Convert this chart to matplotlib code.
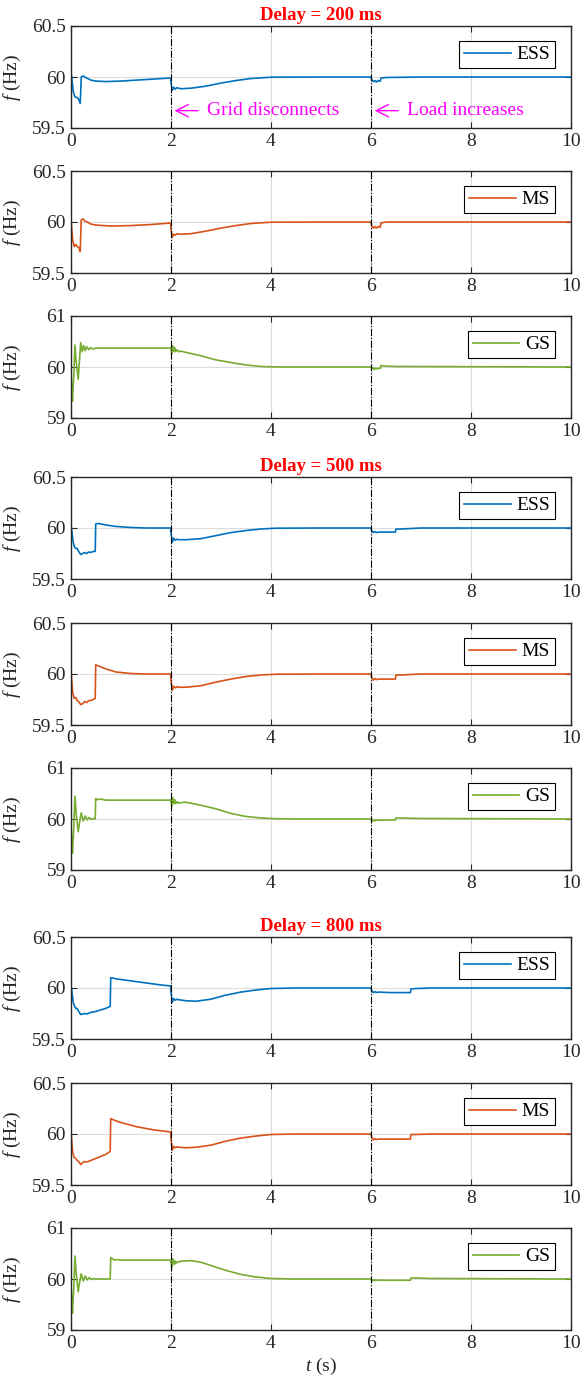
import matplotlib
matplotlib.use("Agg")
import matplotlib.pyplot as plt
from matplotlib.ticker import FormatStrFormatter

plt.rcParams['font.family'] = ['Liberation Serif', 'DejaVu Serif']
plt.rcParams['mathtext.fontset'] = 'custom'
plt.rcParams['mathtext.rm'] = 'Liberation Serif'
plt.rcParams['mathtext.it'] = 'Liberation Serif:italic'

# ---- data: (t in s, f in Hz) ----
delays = ['200', '500', '800']
series_names = ['ESS', 'MS', 'GS']
colors = ['#0072BD', '#D95319', '#77AC30']

t_ess_200 = [0, 0.02, 0.05, 0.08, 0.1, 0.13, 0.16, 0.19, 0.2, 0.21, 0.25, 0.28, 0.32, 0.4, 0.5, 0.7, 1.0, 1.5, 2.0,
             2.0, 2.03, 2.06, 2.09, 2.12, 2.2, 2.4, 2.7, 3.0, 3.3, 3.6, 4.0, 5.0, 6.0,
             6.02, 6.05, 6.08, 6.11, 6.14, 6.17, 6.19, 6.2, 6.3, 7, 10]
f_ess_200 = [60.05, 60.0, 59.86, 59.81, 59.80, 59.80, 59.78, 59.74, 59.85, 60.0, 60.01, 60.0, 59.99, 59.97, 59.96, 59.955, 59.96, 59.975, 59.99,
             59.96, 59.87, 59.9, 59.88, 59.895, 59.885, 59.89, 59.91, 59.94, 59.965, 59.985, 59.998, 60.0, 60.0,
             59.97, 59.955, 59.965, 59.95, 59.965, 59.96, 59.96, 59.99, 59.995, 60.0, 60.0]

t_ms_200 = [0, 0.01, 0.04, 0.07, 0.1, 0.13, 0.16, 0.19, 0.2, 0.21, 0.25, 0.28, 0.33, 0.4, 0.5, 0.8, 1.2, 1.6, 2.0,
            2.0, 2.03, 2.06, 2.09, 2.12, 2.2, 2.4, 2.7, 3.0, 3.3, 3.6, 4.0, 5.0, 6.0,
            6.02, 6.05, 6.08, 6.11, 6.14, 6.17, 6.19, 6.2, 6.3, 7, 10]
f_ms_200 = [60.11, 60.0, 59.82, 59.76, 59.78, 59.76, 59.75, 59.71, 59.86, 60.02, 60.03, 60.01, 60.0, 59.98, 59.97, 59.96, 59.965, 59.975, 59.99,
            59.95, 59.85, 59.88, 59.87, 59.885, 59.88, 59.885, 59.91, 59.94, 59.965, 59.985, 59.998, 60.0, 60.0,
            59.96, 59.94, 59.955, 59.94, 59.955, 59.95, 59.95, 59.99, 60.0, 60.0, 60.0]

t_gs_200 = [0, 0.02, 0.035, 0.06, 0.085, 0.11, 0.15, 0.18, 0.2, 0.23, 0.26, 0.29, 0.32, 0.36, 0.4, 0.45, 0.5, 0.6, 1.0, 2.0,
            2.02, 2.04, 2.06, 2.08, 2.1, 2.13, 2.16, 2.2, 2.6, 2.9, 3.25, 3.5, 3.8, 4.2, 5.0, 6.0,
            6.02, 6.04, 6.07, 6.1, 6.13, 6.16, 6.19, 6.2, 6.25, 6.5, 10]
f_gs_200 = [60.0, 59.6, 59.33, 59.8, 60.43, 60.1, 59.76, 60.2, 60.48, 60.3, 60.42, 60.32, 60.4, 60.34, 60.38, 60.35, 60.37, 60.37, 60.37, 60.37,
            60.25, 60.42, 60.3, 60.38, 60.3, 60.34, 60.3, 60.31, 60.22, 60.14, 60.08, 60.04, 60.01, 60.0, 60.0, 60.0,
            59.96, 59.99, 59.95, 59.98, 59.96, 59.98, 59.97, 60.03, 60.02, 60.01, 60.0]

t_ess_500 = [0, 0.02, 0.05, 0.08, 0.1, 0.13, 0.16, 0.2, 0.24, 0.28, 0.32, 0.36, 0.4, 0.45, 0.49, 0.5, 0.55, 0.7, 0.9, 1.2, 1.5, 2.0,
             2.0, 2.03, 2.06, 2.09, 2.12, 2.16, 2.3, 2.6, 2.9, 3.2, 3.5, 3.8, 4.1, 5.0, 6.0,
             6.02, 6.05, 6.08, 6.11, 6.15, 6.3, 6.49, 6.5, 6.6, 7, 10]
f_ess_500 = [60.04, 59.98, 59.86, 59.81, 59.80, 59.80, 59.77, 59.74, 59.75, 59.76, 59.75, 59.765, 59.76, 59.77, 59.77, 60.04, 60.045, 60.03, 60.015, 60.005, 60.0, 60.0,
             59.97, 59.86, 59.9, 59.88, 59.89, 59.885, 59.885, 59.895, 59.925, 59.955, 59.975, 59.99, 59.998, 60.0, 60.0,
             59.97, 59.955, 59.965, 59.955, 59.96, 59.96, 59.96, 59.99, 59.99, 60.0, 60.0]

t_ms_500 = [0, 0.01, 0.04, 0.07, 0.1, 0.13, 0.16, 0.2, 0.24, 0.28, 0.32, 0.36, 0.4, 0.45, 0.49, 0.5, 0.55, 0.7, 0.9, 1.2, 1.5, 2.0,
            2.0, 2.03, 2.06, 2.09, 2.12, 2.16, 2.3, 2.6, 2.9, 3.2, 3.5, 3.8, 4.1, 5.0, 6.0,
            6.02, 6.05, 6.08, 6.11, 6.15, 6.3, 6.49, 6.5, 6.6, 7, 10]
f_ms_500 = [60.12, 60.0, 59.82, 59.76, 59.77, 59.74, 59.73, 59.70, 59.71, 59.73, 59.72, 59.74, 59.74, 59.75, 59.76, 60.09, 60.08, 60.05, 60.02, 60.005, 60.0, 60.0,
            59.96, 59.84, 59.88, 59.865, 59.875, 59.87, 59.87, 59.885, 59.92, 59.95, 59.975, 59.99, 59.998, 60.0, 60.0,
            59.965, 59.94, 59.955, 59.945, 59.95, 59.95, 59.95, 59.99, 59.99, 60.0, 60.0]

t_gs_500 = [0, 0.02, 0.035, 0.06, 0.085, 0.11, 0.15, 0.18, 0.21, 0.25, 0.29, 0.33, 0.37, 0.41, 0.45, 0.49, 0.5, 0.53, 0.6, 0.7, 1.0, 2.0,
            2.02, 2.04, 2.06, 2.08, 2.1, 2.13, 2.16, 2.2, 2.3, 2.6, 2.9, 3.2, 3.5, 3.8, 4.1, 4.5, 6.0,
            6.02, 6.04, 6.07, 6.1, 6.13, 6.16, 6.2, 6.3, 6.49, 6.5, 6.6, 7, 10]
f_gs_500 = [60.0, 59.6, 59.33, 59.8, 60.45, 60.1, 59.75, 59.95, 60.12, 59.96, 60.06, 59.98, 60.03, 59.99, 60.01, 60.0, 60.4, 60.38, 60.39, 60.37, 60.37, 60.37,
            60.25, 60.42, 60.3, 60.38, 60.3, 60.34, 60.31, 60.32, 60.33, 60.27, 60.2, 60.11, 60.05, 60.02, 60.005, 60.0, 60.0,
            59.96, 59.99, 59.96, 59.985, 59.97, 59.985, 59.975, 59.98, 59.98, 60.02, 60.02, 60.01, 60.0]

t_ess_800 = [0, 0.02, 0.05, 0.08, 0.1, 0.13, 0.16, 0.2, 0.24, 0.28, 0.32, 0.4, 0.5, 0.6, 0.7, 0.79, 0.8, 0.83, 0.9, 1.2, 1.5, 1.8, 2.0,
             2.0, 2.03, 2.06, 2.09, 2.12, 2.16, 2.3, 2.5, 2.8, 3.1, 3.4, 3.7, 4.0, 4.5, 6.0,
             6.02, 6.05, 6.08, 6.11, 6.15, 6.4, 6.79, 6.8, 6.9, 7.2, 10]
f_ess_800 = [60.04, 59.98, 59.86, 59.82, 59.80, 59.80, 59.77, 59.74, 59.745, 59.75, 59.745, 59.76, 59.77, 59.785, 59.80, 59.82, 60.1, 60.1, 60.09, 60.07, 60.05, 60.03, 60.02,
             59.98, 59.86, 59.895, 59.88, 59.89, 59.885, 59.875, 59.87, 59.89, 59.93, 59.96, 59.98, 59.995, 60.0, 60.0,
             59.97, 59.955, 59.965, 59.955, 59.96, 59.955, 59.955, 59.99, 59.995, 60.0, 60.0]

t_ms_800 = [0, 0.01, 0.04, 0.07, 0.1, 0.13, 0.16, 0.2, 0.24, 0.28, 0.32, 0.4, 0.5, 0.6, 0.7, 0.79, 0.8, 0.85, 0.95, 1.1, 1.33, 1.66, 2.0,
            2.0, 2.03, 2.06, 2.09, 2.12, 2.16, 2.3, 2.5, 2.8, 3.1, 3.4, 3.7, 4.0, 4.5, 6.0,
            6.02, 6.05, 6.08, 6.11, 6.15, 6.4, 6.79, 6.8, 6.9, 7.2, 10]
f_ms_800 = [60.12, 60.0, 59.82, 59.77, 59.76, 59.74, 59.73, 59.70, 59.72, 59.73, 59.725, 59.74, 59.76, 59.78, 59.80, 59.83, 60.15, 60.14, 60.12, 60.1, 60.07, 60.04, 60.02,
            59.98, 59.84, 59.88, 59.865, 59.875, 59.87, 59.865, 59.87, 59.89, 59.93, 59.96, 59.98, 59.995, 60.0, 60.0,
            59.965, 59.94, 59.955, 59.945, 59.95, 59.95, 59.95, 59.995, 59.995, 60.0, 60.0]

t_gs_800 = [0, 0.02, 0.035, 0.06, 0.085, 0.11, 0.15, 0.18, 0.21, 0.25, 0.29, 0.33, 0.37, 0.41, 0.45, 0.5, 0.79, 0.8, 0.83, 0.87, 0.92, 1.0, 1.2, 2.0,
            2.02, 2.04, 2.06, 2.08, 2.1, 2.13, 2.16, 2.2, 2.4, 2.6, 2.85, 3.1, 3.4, 3.7, 4.0, 4.5, 6.0,
            6.02, 6.04, 6.07, 6.1, 6.13, 6.16, 6.2, 6.4, 6.79, 6.8, 6.9, 7.2, 10]
f_gs_800 = [60.0, 59.6, 59.33, 59.8, 60.45, 60.1, 59.75, 59.95, 60.1, 59.96, 60.06, 59.98, 60.03, 59.99, 60.01, 60.0, 60.0, 60.42, 60.4, 60.37, 60.38, 60.37, 60.37, 60.37,
            60.22, 60.4, 60.28, 60.36, 60.3, 60.34, 60.33, 60.35, 60.36, 60.33, 60.25, 60.17, 60.09, 60.04, 60.01, 60.0, 60.0,
            59.96, 59.99, 59.965, 59.985, 59.97, 59.98, 59.975, 59.975, 59.975, 60.02, 60.02, 60.01, 60.0]

traces = {
    '200': [(t_ess_200, f_ess_200), (t_ms_200, f_ms_200), (t_gs_200, f_gs_200)],
    '500': [(t_ess_500, f_ess_500), (t_ms_500, f_ms_500), (t_gs_500, f_gs_500)],
    '800': [(t_ess_800, f_ess_800), (t_ms_800, f_ms_800), (t_gs_800, f_gs_800)],
}
event_times = [2, 6]

# ---- layout (pixels) ----
W, H = 581, 1381
fig = plt.figure(figsize=(W / 100, H / 100), dpi=100)
left_px, right_px = 70.7, 571
tops = [26, 171, 316, 477, 623, 768, 937, 1083, 1228]
hgt = 102

fs = 14
axes = []
for i, top in enumerate(tops):
    ax = fig.add_axes([left_px / W, 1 - (top + hgt) / H, (right_px - left_px) / W, hgt / H])
    axes.append(ax)
    d = delays[i // 3]
    k = i % 3
    t, f = traces[d][k]
    ax.plot(t, f, color=colors[k], lw=1.2, label=series_names[k])
    for te in event_times:
        ax.axvline(te, color='k', lw=0.8, ls='-.', zorder=3)
    ax.set_xlim(0, 10)
    if k == 2:
        ax.set_ylim(59, 61)
        ax.set_yticks([59, 60, 61])
    else:
        ax.set_ylim(59.5, 60.5)
        ax.set_yticks([59.5, 60, 60.5])
    ax.set_xticks([0, 2, 4, 6, 8, 10])
    ax.yaxis.set_major_formatter(FormatStrFormatter('%g'))
    ax.grid(True, color='#dcdcdc', lw=0.8)
    ax.set_axisbelow(True)
    ax.tick_params(direction='in', top=True, right=True, labelsize=fs, length=4, width=0.8,
                   colors='#262626', labelcolor='#262626')
    for s in ax.spines.values():
        s.set_color('#262626')
        s.set_linewidth(1.0)
    ax.set_ylabel('$f$ (Hz)', fontsize=fs, color='#262626')
    ax.yaxis.set_label_coords(-0.095, 0.5)
    leg = ax.legend(loc='upper right', bbox_to_anchor=(1 - 16 / 500, 1 - 15 / hgt), borderaxespad=0,
                    fontsize=fs, handlelength=2.4, handletextpad=0.3, borderpad=0.25,
                    fancybox=False, framealpha=1, edgecolor='k')
    leg.get_frame().set_linewidth(0.8)
    if k == 0:
        ax.set_title('Delay = %s ms' % d, color='red', fontweight='bold', fontsize=13.5, pad=4)

axes[-1].set_xlabel('$t$ (s)', fontsize=fs, color='#262626', labelpad=3)

# annotations in the first panel
ax0 = axes[0]
ax0.annotate('', xy=(2.02, 59.67), xytext=(2.6, 59.67),
             arrowprops=dict(arrowstyle='->', color='magenta', lw=1.0, mutation_scale=22))
ax0.text(2.72, 59.67, 'Grid disconnects', color='magenta', fontsize=fs, va='center', ha='left')
ax0.annotate('', xy=(6.02, 59.67), xytext=(6.6, 59.67),
             arrowprops=dict(arrowstyle='->', color='magenta', lw=1.0, mutation_scale=22))
ax0.text(6.72, 59.67, 'Load increases', color='magenta', fontsize=fs, va='center', ha='left')

fig.savefig('out.png', dpi=100)
